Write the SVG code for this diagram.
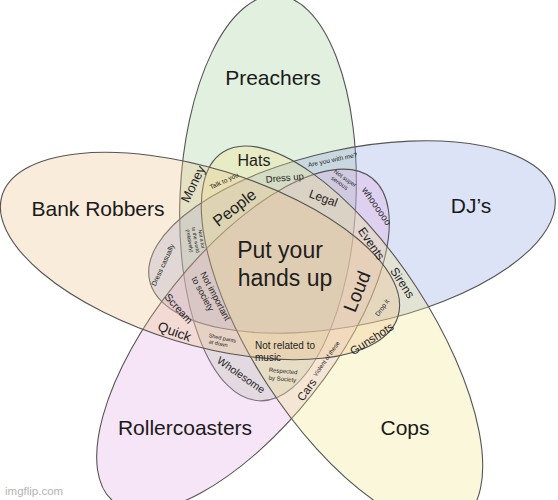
<svg xmlns="http://www.w3.org/2000/svg" width="558" height="500" viewBox="0 0 558 500">
<style>
.set{stroke:#555;stroke-width:1.1;fill-opacity:0.31}
.big{font-family:"Liberation Sans",Arial,sans-serif;font-size:21px;fill:#1a1a1a;text-anchor:middle}
.t{font-family:"Liberation Sans",Arial,sans-serif;fill:#1e1e1e;text-anchor:middle}
.wm{font-family:"Liberation Sans",Arial,sans-serif;font-size:11.5px;fill:#b5b5b5}
</style>
<rect width="558" height="500" fill="#ffffff"/>
<g id="set-preachers">
<ellipse class="set" cx="268" cy="198" rx="88" ry="203" transform="rotate(2.5 268 198)" fill="#a2cd98"/>
<text class="big" x="273" y="85">Preachers</text>
</g>
<g id="set-djs">
<ellipse class="set" cx="352" cy="237" rx="207" ry="88" transform="rotate(-12 352 237)" fill="#91a5e1"/>
<text class="big" x="471" y="213">DJ’s</text>
</g>
<g id="set-rollercoasters">
<ellipse class="set" cx="243" cy="340" rx="88" ry="207" transform="rotate(38.6 243 340)" fill="#e1ace1"/>
<text class="big" x="185" y="435">Rollercoasters</text>
</g>
<g id="set-cops">
<ellipse class="set" cx="342" cy="336" rx="89" ry="219" transform="rotate(-33 342 336)" fill="#f2e48a"/>
<text class="big" x="405" y="435">Cops</text>
</g>
<g id="set-bank-robbers">
<ellipse class="set" cx="200" cy="256" rx="207" ry="88" transform="rotate(17 200 256)" fill="#ebc38a"/>
<text class="big" x="98" y="216">Bank Robbers</text>
</g>
<g id="r-center"><text class="t" font-size="23"><tspan x="280" y="258">Put your</tspan><tspan x="285" y="286">hands up</tspan></text></g>
<g id="r-hats"><text class="t" font-size="16" x="254" y="166">Hats</text></g>
<g id="r-money"><text class="t" font-size="13" transform="translate(197,186) rotate(-64)">Money</text></g>
<g id="r-talk"><text class="t" font-size="6.5" transform="translate(225,183) rotate(-25)">Talk to you</text></g>
<g id="r-dressup"><text class="t" font-size="9.5" transform="translate(285,181) rotate(-5)">Dress up</text></g>
<g id="r-areyou"><text class="t" font-size="6.5" transform="translate(333,162) rotate(-12)">Are you with me?</text></g>
<g id="r-notsuper"><text class="t" font-size="6" transform="translate(344,180) rotate(35)"><tspan x="0" y="0">Not super</tspan><tspan x="-2" y="7">serious</tspan></text></g>
<g id="r-whoo"><text class="t" font-size="9.5" transform="translate(374,208) rotate(55)">whoooooo</text></g>
<g id="r-people"><text class="t" font-size="16" transform="translate(238,212) rotate(-38)">People</text></g>
<g id="r-legal"><text class="t" font-size="12" transform="translate(322,202) rotate(20)">Legal</text></g>
<g id="r-events"><text class="t" font-size="12" transform="translate(368,246) rotate(55)">Events</text></g>
<g id="r-sirens"><text class="t" font-size="12" transform="translate(399,285) rotate(57)">Sirens</text></g>
<g id="r-loud"><text class="t" font-size="19" transform="translate(363,294) rotate(-68)">Loud</text></g>
<g id="r-dropit"><text class="t" font-size="6.5" transform="translate(384,309) rotate(-55)">Drop it</text></g>
<g id="r-gunshots"><text class="t" font-size="11.5" transform="translate(374,342) rotate(-33)">Gunshots</text></g>
<g id="r-notrelated"><text class="t" font-size="10"><tspan x="255" y="349" text-anchor="start">Not related to</tspan><tspan x="255" y="361" text-anchor="start">music</tspan></text></g>
<g id="r-violent"><text class="t" font-size="6" transform="translate(328,360) rotate(-55)">Violent of these</text></g>
<g id="r-cars"><text class="t" font-size="11.5" transform="translate(310,392) rotate(-55)">Cars</text></g>
<g id="r-respected"><text class="t" font-size="6" transform="translate(283,373) rotate(5)"><tspan x="0" y="0">Respected</tspan><tspan x="0" y="8">by Society</tspan></text></g>
<g id="r-wholesome"><text class="t" font-size="10.5" transform="translate(239,378) rotate(35)">Wholesome</text></g>
<g id="r-shed"><text class="t" font-size="5.5" transform="translate(222,340) rotate(12)"><tspan x="0" y="0">Shed pants</tspan><tspan x="-3" y="6">at down</tspan></text></g>
<g id="r-quick"><text class="t" font-size="13.5" transform="translate(173,336) rotate(20)">Quick</text></g>
<g id="r-scream"><text class="t" font-size="10.5" transform="translate(176,311) rotate(48)">Scream</text></g>
<g id="r-notimportant"><text class="t" font-size="9" transform="translate(210,299) rotate(62)"><tspan x="0" y="-3">Not important</tspan><tspan x="-8" y="7">to society</tspan></text></g>
<g id="r-dresscasually"><text class="t" font-size="7" transform="translate(165,266) rotate(-65)">Dress casually</text></g>
<g id="r-notalot"><text class="t" font-size="5" transform="translate(195,240) rotate(80)"><tspan x="0" y="-5">Not a lot</tspan><tspan x="0" y="1">to the world</tspan><tspan x="0" y="7">(relatively)</tspan></text></g>
<text class="wm" x="5" y="495">imgflip.com</text>
</svg>
